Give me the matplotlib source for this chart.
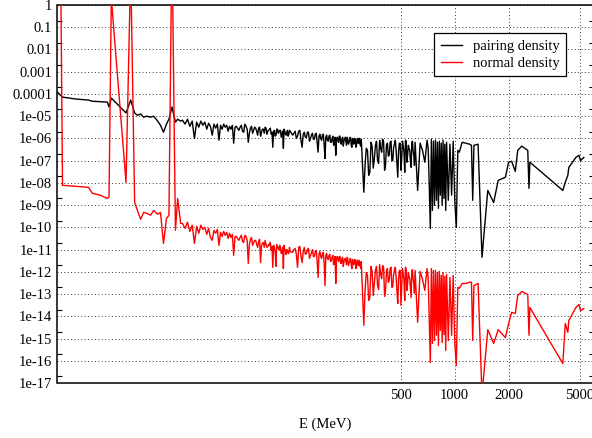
import matplotlib
matplotlib.use("Agg")
import matplotlib.pyplot as plt
from matplotlib.ticker import FixedLocator, FixedFormatter, NullFormatter, NullLocator
import numpy as np

# ---------------- data ----------------
# low-energy part (sharp resonances of the normal density)
energy_low = [6.0, 6.23, 6.4, 7.6, 8.95, 9.4, 10.4, 11.4, 11.65, 12.0, 14.5, 15.4, 16.2, 16.8,
              17.5, 18.2, 18.9, 19.9, 20.7, 21.8, 22.6, 23.5, 24.4, 25.2, 26.2, 27.4, 28.2, 29.3]
pairing_low = [1.2e-4, 8.8e-5, 7.2e-5, 5.9e-5, 5.3e-5, 4.7e-5, 4.5e-5, 4.3e-5, 2.6e-5, 6.5e-5,
               1.4e-5, 5.3e-5, 1.4e-5, 1.1e-5, 1.25e-5, 9.0e-6, 1.0e-5, 9.0e-6, 1.0e-5, 6.0e-6,
               3.9e-6, 1.9e-6, 4.4e-6, 7.3e-6, 2.6e-5, 5.4e-6, 7.3e-6, 6.0e-6]
normal_low = [1e3, 1e3, 7.8e-9, 7.0e-9, 6.3e-9, 3.4e-9, 2.8e-9, 2.0e-9, 2.3e-9, 2.0,
              1.06e-8, 50.0, 1.3e-9, 5.8e-10, 2.3e-10, 4.7e-10, 4.3e-10, 3.5e-10, 5.8e-10, 3.9e-10,
              4.7e-10, 1.9e-11, 2.5e-10, 3.5e-10, 1e3, 7.3e-11, 2.0e-9, 1.5e-10]

energy_b = [30, 31, 32, 33, 34, 35, 36, 37, 38, 39, 40, 41, 42, 43, 44, 45, 46, 47, 48, 49,
            50, 51, 52, 53, 54, 55, 56, 57, 58, 59, 60]
pairing_b = [6.6e-6, 4.4e-6, 7.3e-6, 3.5e-6, 6.0e-6, 1.0e-6, 5.4e-6, 3.2e-6, 6.0e-6, 3.9e-6,
             5.4e-6, 2.6e-6, 4.8e-6, 3.5e-6, 1.4e-6, 4.4e-6, 2.9e-6, 4.4e-6, 8.3e-7, 3.9e-6,
             2.6e-6, 4.4e-6, 3.2e-6, 3.9e-6, 2.1e-6, 3.5e-6, 2.6e-6, 3.9e-6, 6.1e-7, 3.2e-6, 3.5e-6]
normal_b = [1.5e-10, 9.0e-11, 1.7e-10, 6.6e-11, 1.25e-10, 1.9e-11, 1.1e-10, 5.4e-11, 1.25e-10, 8.1e-11,
            1.0e-10, 4.8e-11, 9.0e-11, 3.5e-11, 2.6e-11, 7.3e-11, 5.4e-11, 8.1e-11, 1.55e-11, 6.0e-11,
            3.9e-11, 6.6e-11, 4.4e-11, 6.0e-11, 3.2e-11, 5.4e-11, 3.5e-11, 4.8e-11, 5.5e-12, 3.9e-11, 3.9e-11]

energy_c = [62, 64, 66, 68, 70, 72, 74, 76, 78, 80, 82, 84, 86, 88, 90, 92, 94, 96, 98, 100,
            102, 104, 106, 108, 110, 112, 114, 116, 118, 120]
pairing_c = [2.3e-6, 3.9e-6, 1.9e-6, 3.5e-6, 6.7e-7, 2.9e-6, 1.7e-6, 3.2e-6, 2.1e-6, 2.9e-6,
             1.26e-6, 2.6e-6, 1.7e-6, 2.9e-6, 2.1e-6, 2.6e-6, 1.55e-6, 4.0e-7, 2.3e-6, 1.4e-6,
             2.6e-6, 1.9e-6, 2.3e-6, 1.55e-6, 3.6e-7, 2.1e-6, 1.4e-6, 2.3e-6, 1.55e-6, 2.1e-6]
normal_c = [2.6e-11, 4.4e-11, 2.1e-11, 3.9e-11, 2.4e-12, 2.9e-11, 1.55e-11, 2.6e-11, 1.7e-11, 2.3e-11,
            2.6e-12, 1.9e-11, 1.26e-11, 1.7e-11, 1.4e-11, 1.55e-11, 9.2e-12, 1.6e-12, 1.26e-11, 1.75e-12,
            1.4e-11, 1.0e-11, 1.13e-11, 7.5e-12, 1.4e-12, 1.0e-11, 6.1e-12, 9.2e-12, 6.7e-12, 8.3e-12]

energy_c2 = [63, 65, 67, 69, 71, 73, 75, 77, 79, 81, 83, 85, 87, 89, 91, 93, 95, 97, 99, 101,
             103, 105, 107, 109, 111, 113, 115, 117, 119]
pairing_c2 = [3.2e-6, 2.1e-6, 4.4e-6, 2.6e-6, 1.7e-6, 3.5e-6, 2.3e-6, 2.9e-6, 1.4e-6, 3.2e-6,
              1.9e-6, 2.6e-6, 3.2e-6, 1.55e-6, 2.3e-6, 2.9e-6, 1.9e-6, 2.1e-6, 1.26e-6, 2.6e-6,
              1.7e-6, 2.3e-6, 1.13e-6, 2.1e-6, 2.6e-6, 1.55e-6, 1.9e-6, 1.26e-6, 2.3e-6]
normal_c2 = [3.5e-11, 2.3e-11, 4.4e-11, 2.6e-11, 1.7e-11, 3.5e-11, 2.1e-11, 2.6e-11, 1.26e-11, 2.9e-11,
             1.55e-11, 2.1e-11, 2.6e-11, 1.26e-11, 1.7e-11, 2.1e-11, 1.4e-11, 1.55e-11, 8.3e-12, 1.7e-11,
             1.13e-11, 1.55e-11, 6.7e-12, 1.26e-11, 1.55e-11, 9.2e-12, 1.0e-11, 6.7e-12, 1.26e-11]

energy_d = [124, 128, 132, 136, 140, 144, 148, 152, 156, 160, 164, 168, 172, 176, 180, 184, 188,
            192, 196, 200, 204, 208, 212, 216, 220, 224, 228, 232, 236, 240, 244, 248, 252, 256,
            260, 264, 268, 272, 276, 280, 284, 288, 292, 296, 300]
pairing_d = [1.4e-6, 2.1e-6, 1.26e-6, 2.3e-6, 4.0e-7, 1.9e-6, 1.13e-6, 1.9e-6, 1.0e-6, 1.7e-6,
             9.2e-7, 1.7e-6, 2.4e-7, 1.55e-6, 8.3e-7, 1.55e-6, 1.25e-7, 1.4e-6, 7.5e-7, 1.4e-6,
             6.7e-7, 1.26e-6, 6.1e-7, 1.75e-7, 1.13e-6, 6.7e-7, 1.26e-6, 5.5e-7, 1.13e-6, 7.5e-7,
             1.13e-6, 4.9e-7, 1.0e-6, 6.1e-7, 1.13e-6, 4.5e-7, 1.0e-6, 5.5e-7, 1.0e-6, 4.0e-7,
             9.2e-7, 6.1e-7, 1.0e-6, 4.9e-7, 9.2e-7]
normal_d = [7.5e-12, 1.13e-11, 1.6e-12, 1.4e-11, 2.6e-12, 1.26e-11, 6.7e-12, 1.13e-11, 5.5e-12, 1.0e-11,
            4.9e-12, 9.2e-12, 5.6e-13, 8.3e-12, 4.0e-12, 7.5e-12, 2.4e-13, 6.7e-12, 3.6e-12, 6.1e-12,
            3.3e-12, 5.5e-12, 2.6e-12, 3.0e-13, 4.9e-12, 2.9e-12, 4.9e-12, 2.4e-12, 4.5e-12, 2.9e-12,
            4.0e-12, 2.1e-12, 4.0e-12, 2.4e-12, 4.0e-12, 1.75e-12, 3.6e-12, 2.1e-12, 3.6e-12, 1.4e-12,
            3.3e-12, 2.1e-12, 3.3e-12, 1.75e-12, 2.9e-12]

energy_d2 = [126, 130, 134, 138, 142, 146, 150, 154, 158, 162, 166, 170, 174, 178, 182, 186, 190,
             194, 198, 202, 206, 210, 214, 218, 222, 226, 230, 234, 238, 242, 246, 250, 254, 258,
             262, 266, 270, 274, 278, 282, 286, 290, 294, 298]
pairing_d2 = [1.7e-6, 1.0e-6, 2.1e-6, 8.3e-7, 1.55e-6, 1.13e-6, 1.9e-6, 7.5e-7, 1.4e-6, 9.2e-7,
              1.55e-6, 6.1e-7, 1.26e-6, 1.0e-6, 1.4e-6, 5.5e-7, 1.13e-6, 8.3e-7, 1.26e-6, 6.7e-7,
              1.0e-6, 4.9e-7, 1.13e-6, 7.5e-7, 9.2e-7, 1.26e-6, 6.1e-7, 1.0e-6, 4.5e-7, 9.2e-7,
              7.5e-7, 1.13e-6, 5.5e-7, 8.3e-7, 1.0e-6, 4.0e-7, 9.2e-7, 6.7e-7, 8.3e-7, 4.9e-7,
              1.0e-6, 6.1e-7, 7.5e-7, 4.5e-7]
normal_d2 = [1.0e-11, 6.1e-12, 1.26e-11, 4.9e-12, 8.3e-12, 6.1e-12, 1.0e-11, 4.0e-12, 7.5e-12, 4.9e-12,
             8.3e-12, 2.9e-12, 6.1e-12, 4.9e-12, 6.7e-12, 2.6e-12, 5.5e-12, 4.0e-12, 5.5e-12, 2.9e-12,
             4.5e-12, 2.1e-12, 4.9e-12, 3.3e-12, 4.0e-12, 4.9e-12, 2.4e-12, 4.0e-12, 1.75e-12, 3.6e-12,
             2.9e-12, 4.5e-12, 1.9e-12, 2.9e-12, 3.6e-12, 1.4e-12, 3.3e-12, 2.4e-12, 2.9e-12, 1.6e-12,
             3.3e-12, 1.9e-12, 2.4e-12, 1.4e-12]

energy_e = [310, 320, 330, 340, 350, 360, 370, 380, 390, 400, 410, 420, 430, 440, 450, 460, 470,
            480, 490, 500, 510, 520, 530, 540, 550, 560, 570, 580, 590, 600,
            620, 640, 660, 680, 700,
            710, 720, 730, 740, 750, 760, 770, 780, 790, 800, 810, 820, 830, 840, 850, 860, 870,
            880, 890, 900, 920, 940, 960, 980, 1000]
pairing_e = [3.8e-9, 3.6e-7, 2.2e-8, 6.7e-7, 4.6e-8, 4.9e-7, 1.0e-7, 8.3e-7, 2.4e-7, 6.7e-7,
             6.2e-8, 6.1e-7, 1.75e-7, 7.5e-7, 1.0e-7, 5.5e-7, 2.9e-7, 1.8e-8, 6.1e-7, 3.7e-8,
             7.5e-7, 2.4e-7, 8.3e-7, 8.5e-8, 4.9e-7, 2.9e-7, 5.0e-8, 7.5e-7, 1.75e-7, 6.7e-7,
             4.6e-9, 6.1e-7, 2.9e-7, 8.5e-8, 8.3e-7,
             3.6e-7, 7.8e-9, 9.0e-11, 9.2e-7, 5.8e-10, 7.5e-7, 9.8e-10, 8.3e-7, 1.65e-9, 6.7e-7,
             7.2e-10, 7.5e-7, 2.8e-9, 6.1e-7, 9.8e-10, 8.3e-7, 2.0e-9, 5.5e-7, 5.8e-10, 6.7e-7,
             1.65e-9, 5.5e-7, 2.8e-9, 7.5e-7, 1.65e-9]
normal_e = [3.9e-15, 9.4e-13, 5.2e-14, 1.75e-12, 8.6e-14, 1.15e-12, 2.4e-13, 2.1e-12, 5.0e-13, 1.6e-12,
            1.45e-13, 1.4e-12, 4.1e-13, 1.6e-12, 2.2e-13, 1.15e-12, 5.6e-13, 3.8e-14, 1.15e-12, 3.1e-14,
            1.4e-12, 4.1e-13, 1.6e-12, 1.45e-13, 9.4e-13, 5.0e-13, 7.0e-14, 1.26e-12, 3.0e-13, 1.15e-12,
            5.3e-15, 1.05e-12, 4.6e-13, 1.45e-13, 1.4e-12,
            5.6e-13, 6.5e-15, 8.3e-17, 1.4e-12, 6.0e-16, 1.15e-12, 8.1e-16, 1.15e-12, 1.4e-15, 9.4e-13,
            4.8e-16, 1.05e-12, 2.3e-15, 6.9e-13, 6.6e-16, 9.4e-13, 1.5e-15, 6.2e-13, 2.9e-16, 7.6e-13,
            8.1e-16, 5.6e-13, 1.4e-15, 6.9e-13, 6.6e-16]

energy_e2 = [315, 325, 335, 345, 355, 365, 375, 385, 395, 405, 415, 425, 435, 445, 455, 465, 475,
             485, 495, 505, 515, 525, 535, 545, 555, 565, 575, 585, 595]
pairing_e2 = [6.2e-8, 2.9e-7, 3.0e-8, 4.5e-7, 1.25e-7, 7.5e-7, 7.6e-8, 3.6e-7, 9.2e-7, 3.7e-8,
              4.9e-7, 1.6e-7, 6.7e-7, 1.0e-7, 4.0e-7, 8.3e-7, 6.9e-8, 2.6e-7, 6.1e-7, 1.25e-7,
              4.5e-7, 3.0e-8, 7.5e-7, 1.75e-7, 3.6e-7, 1.0e-7, 6.1e-7, 2.6e-7, 6.2e-8]
normal_e2 = [1.45e-13, 6.9e-13, 7.0e-14, 1.05e-12, 3.0e-13, 1.75e-12, 1.6e-13, 7.6e-13, 1.9e-12, 7.8e-14,
             1.05e-12, 3.4e-13, 1.4e-12, 2.0e-13, 7.6e-13, 1.6e-12, 1.3e-13, 5.0e-13, 1.15e-12, 2.4e-13,
             8.5e-13, 5.2e-14, 1.26e-12, 3.0e-13, 6.2e-13, 1.8e-13, 1.05e-12, 4.6e-13, 1.1e-13]

energy_high = [1020, 1040, 1060, 1100, 1150, 1210, 1240, 1260, 1280, 1350, 1420, 1530, 1650, 1750,
               1920, 2000, 2080, 2180, 2250, 2370, 2560, 2600, 2630, 4020, 4150, 4290, 4345, 4760,
               4950, 5050, 5270]
pairing_high = [1.0e-10, 2.9e-7, 2.4e-7, 6.7e-7, 6.1e-7, 5.5e-7, 4.9e-7, 1.65e-9, 4.9e-7, 5.5e-7,
                4.5e-12, 4.6e-9, 1.3e-9, 1.3e-8, 1.8e-8, 8.5e-8, 9.4e-8, 3.3e-8, 2.9e-7, 4.5e-7,
                2.9e-7, 5.7e-9, 8.5e-8, 4.6e-9, 1.06e-8, 2.2e-8, 5.0e-8, 1.4e-7, 1.75e-7, 1.0e-7, 1.4e-7]
normal_high = [6.1e-17, 2.0e-13, 1.8e-13, 3.0e-13, 3.0e-13, 3.4e-13, 3.4e-13, 8.1e-16, 2.4e-13, 3.0e-13,
               3.0e-18, 2.5e-15, 6.0e-16, 2.5e-15, 1.1e-15, 4.7e-15, 1.5e-14, 1.35e-14, 8.6e-14, 1.3e-13,
               9.6e-14, 1.4e-15, 2.5e-14, 7.5e-17, 4.7e-15, 1.9e-15, 6.5e-15, 2.5e-14, 3.4e-14, 1.8e-14, 2.2e-14]

series_labels = ["pairing density", "normal density"]
x_ticks = [500, 1000, 2000, 5000]
x_tick_labels = ["500", "1000", "2000", "5000"]
y_ticks = [1e-17, 1e-16, 1e-15, 1e-14, 1e-13, 1e-12, 1e-11, 1e-10, 1e-09, 1e-08,
           1e-07, 1e-06, 1e-05, 1e-04, 1e-03, 1e-02, 1e-01, 1.0]
y_tick_labels = ["1e-17", "1e-16", "1e-15", "1e-14", "1e-13", "1e-12", "1e-11", "1e-10",
                 "1e-09", "1e-08", "1e-07", "1e-06", "1e-05", "0.0001", "0.001", "0.01", "0.1", "1"]
x_label = "E (MeV)"

# merge all segments on one energy grid (sorted by energy)
energy = np.array(energy_low + energy_b + energy_c + energy_c2 + energy_d + energy_d2
                  + energy_e + energy_e2 + energy_high, dtype=float)
pairing = np.array(pairing_low + pairing_b + pairing_c + pairing_c2 + pairing_d + pairing_d2
                   + pairing_e + pairing_e2 + pairing_high)
normal = np.array(normal_low + normal_b + normal_c + normal_c2 + normal_d + normal_d2
                  + normal_e + normal_e2 + normal_high)
order = np.argsort(energy, kind='stable')
energy, pairing, normal = energy[order], pairing[order], normal[order]

# ---------------- figure ----------------
plt.rcParams['font.family'] = ['Liberation Serif', 'DejaVu Serif']
FS = 10.5

W, H = 592, 438
fig = plt.figure(figsize=(W / 100, H / 100), dpi=100)
ax_left, ax_right, ax_top, ax_bottom = 57.5, 593.9, 5.0, 383.0
ax = fig.add_axes([ax_left / W, 1 - ax_bottom / H, (ax_right - ax_left) / W, (ax_bottom - ax_top) / H])

ax.set_xscale('log')
ax.set_yscale('log')

ax.plot(energy, pairing, color='black', lw=1.0, label=series_labels[0], zorder=3)
ax.plot(energy, normal, color='#ff0000', lw=1.0, label=series_labels[1], zorder=4)

ax.set_xlim(6, 6000)
ax.set_ylim(1e-17, 1)

ax.xaxis.set_major_locator(FixedLocator(x_ticks))
ax.xaxis.set_major_formatter(FixedFormatter(x_tick_labels))
ax.xaxis.set_minor_locator(NullLocator())
ax.yaxis.set_major_locator(FixedLocator(y_ticks))
ax.yaxis.set_major_formatter(FixedFormatter(y_tick_labels))
ax.yaxis.set_minor_locator(FixedLocator([2 * t for t in y_ticks[:-1]]))
ax.yaxis.set_minor_formatter(NullFormatter())

ax.tick_params(axis='y', which='major', length=0, pad=3.8, labelsize=FS)
ax.tick_params(axis='y', which='minor', direction='in', length=3.8, width=0.8,
               left=True, right=True)
ax.tick_params(axis='x', which='major', length=0, pad=4.5, labelsize=FS)

ax.grid(True, which='major', linestyle=(0, (1, 2.5)), color='#333333', lw=0.7, zorder=1)
ax.set_axisbelow(True)

for s in ax.spines.values():
    s.set_color('black')
    s.set_linewidth(1.1)

leg = ax.legend(loc='upper right', bbox_to_anchor=(566 / W, 1 - 33 / H),
                bbox_transform=fig.transFigure, fontsize=FS, frameon=True, fancybox=False,
                framealpha=1, edgecolor='black', handlelength=1.45, handletextpad=0.75,
                labelspacing=0.25, borderpad=0.45, borderaxespad=0)
leg.get_frame().set_linewidth(0.9)

fig.text(325 / W, 1 - 424 / H, x_label, ha='center', va='center', fontsize=FS)

fig.savefig('out.png', dpi=100)
